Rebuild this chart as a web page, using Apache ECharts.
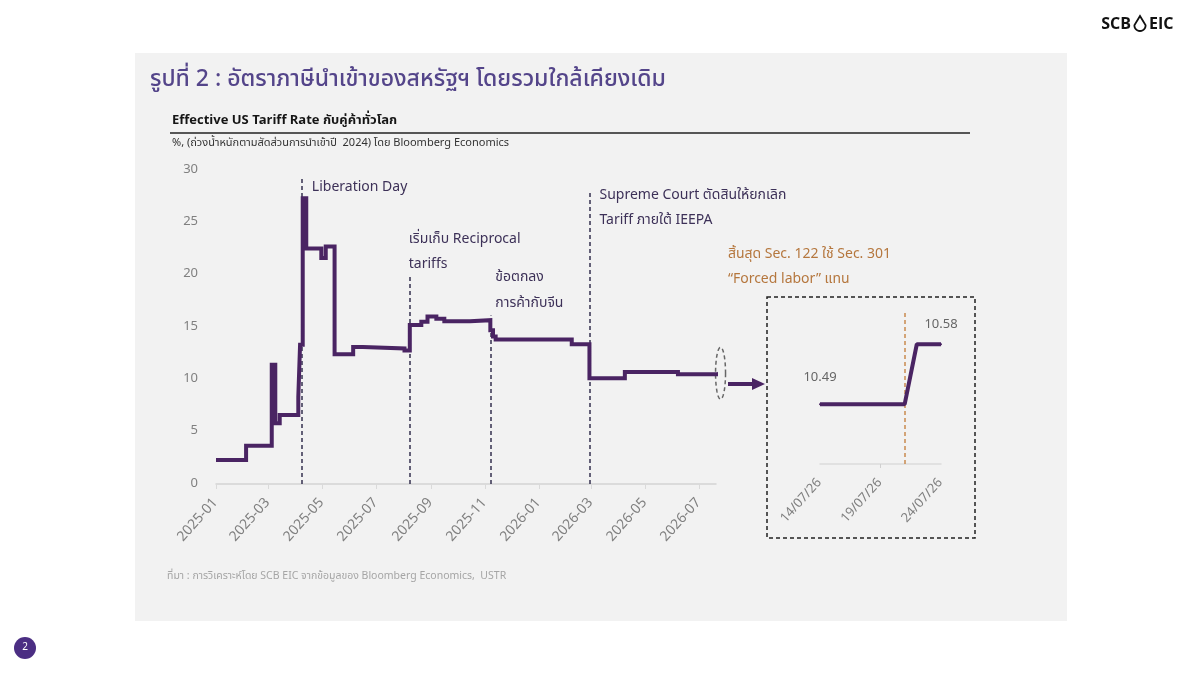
<!DOCTYPE html>
<html>
<head>
<meta charset="utf-8">
<script src="https://cdn.jsdelivr.net/npm/echarts@6/dist/echarts.min.js"></script>
<style>
  html, body { margin: 0; padding: 0; background: #fff; }
  #chart { width: 1200px; height: 675px; }
</style>
</head>
<body>
<div id="chart"></div>
<script>
// วันที่อัตราเปลี่ยน -> effective tariff rate (%)
const rateDates = [
  '2025-01-01', '2025-02-04', '2025-03-05', '2025-03-09', '2025-03-14',
  '2025-04-04', '2025-04-06', '2025-04-09', '2025-04-13', '2025-04-30',
  '2025-05-05', '2025-05-15', '2025-06-05', '2025-06-16', '2025-08-02',
  '2025-08-08', '2025-08-21', '2025-08-28', '2025-09-07', '2025-09-16',
  '2025-10-15', '2025-11-07', '2025-11-10', '2025-11-13', '2026-02-07',
  '2026-02-27', '2026-04-08', '2026-06-07', '2026-07-22', '2026-07-24'
]
const rateValues = [
  2.3, 3.66, 11.4, 5.8, 6.6,
  8.3, 13.3, 27.3, 22.5, 21.6,
  22.7, 12.4, 13.1, 12.95, 12.75,
  15.2, 15.5, 16.0, 15.8, 15.55,
  15.65, 14.7, 14.1, 13.8, 13.35,
  10.1, 10.7, 10.49, 10.58, 10.58
]

const xTickLabels = ['2025-01', '2025-03', '2025-05', '2025-07', '2025-09',
  '2025-11', '2026-01', '2026-03', '2026-05', '2026-07']
const yMin = 0
const yMax = 30
const yStep = 5

// เส้นเหตุการณ์: วันที่, ความสูงของเส้นประ (%), ข้อความ
const eventDates = ['2025-04-08', '2025-08-08', '2025-11-07', '2026-02-27', '2026-07-21']
const eventTops = [29.2, 19.8, 16.1, 27.9, 21.4]
const eventTexts = [
  ['Liberation Day'],
  ['เริ่มเก็บ Reciprocal', 'tariffs'],
  ['ข้อตกลง', 'การค้ากับจีน'],
  ['Supreme Court ตัดสินให้ยกเลิก', 'Tariff ภายใต้ IEEPA'],
  ['สิ้นสุด Sec. 122 ใช้ Sec. 301', '“Forced labor” แทน']
]

// กราฟขยาย (inset)
const insetDates = ['2026-07-14', '2026-07-21', '2026-07-22', '2026-07-24']
const insetValues = [10.49, 10.49, 10.58, 10.58]
const insetTickLabels = ['14/07/26', '19/07/26', '24/07/26']
const insetEventDate = '2026-07-21'

// ---------- helpers ----------
function ts(s) {
  const [y, m, d] = s.split('-').map(Number)
  return Date.UTC(y, m - 1, d)
}
function tsDmy(s) {
  const [d, m, y] = s.split('/').map(Number)
  return Date.UTC(2000 + y, m - 1, d)
}
// จุดรอบวงรี (ใช้วาดเส้นประด้วย polygon)
function ellipsePoints(cx, cy, rx, ry, n = 48) {
  const pts = []
  for (let i = 0; i < n; i++) {
    const a = (i / n) * Math.PI * 2
    pts.push([cx + rx * Math.cos(a), cy + ry * Math.sin(a)])
  }
  return pts
}

const FONT = "'Noto Sans Thai', 'Noto Sans', 'Open Sans', sans-serif"
const PURPLE = '#4a2463'
const EVENT_DARK = '#35304f'
const EVENT_ORANGE = '#c98b4f'
const TEXT_DARK = '#3d3158'
const TEXT_ORANGE = '#b5773e'

const xTickValues = xTickLabels.map(l => ts(l + '-01'))
const insetTickValues = insetTickLabels.map(tsDmy)

// ตำแหน่งข้อความต่อเส้นเหตุการณ์ (px): dx จากเส้น, dy ของบรรทัดแรกจากปลายบนของเส้น
const eventLabelLayout = [
  { dx: 10, dy: 10 },
  { dx: -1, dy: -37 },
  { dx: 5, dy: -37 },
  { dx: 10, dy: 4 },
  { dx: 11, dy: -5 }
]

const chart = echarts.init(document.getElementById('chart'), null, { renderer: 'canvas' })

const eventLines = eventDates.map((d, i) => {
  const last = i === eventDates.length - 1
  return [
    { coord: [ts(d), 0], lineStyle: { color: last ? EVENT_ORANGE : EVENT_DARK } },
    { coord: [ts(d), eventTops[i]] }
  ]
})

chart.setOption({
  animation: false,
  textStyle: { fontFamily: FONT },
  grid: [
    { left: 216, right: 484, top: 170, bottom: 191 },
    { left: 820, right: 259, top: 311, bottom: 211 }
  ],
  xAxis: [
    {
      type: 'value',
      gridIndex: 0,
      min: ts('2025-01-01'),
      max: ts('2026-07-20'),
      axisLine: { lineStyle: { color: '#d4d4d4', width: 1.5 } },
      axisTick: { show: true, customValues: xTickValues, length: 5, lineStyle: { color: '#dadada' } },
      axisLabel: {
        customValues: xTickValues,
        rotate: 48,
        margin: 17,
        color: '#808080',
        fontSize: 14,
        formatter: v => xTickLabels[xTickValues.indexOf(v)] || ''
      },
      splitLine: { show: false }
    },
    {
      type: 'value',
      gridIndex: 1,
      min: ts(insetDates[0]),
      max: ts(insetDates[insetDates.length - 1]),
      axisLine: { lineStyle: { color: '#dcdcdc', width: 1.5 } },
      axisTick: { show: true, customValues: [insetTickValues[1]], length: 4, lineStyle: { color: '#d0d0d0' } },
      axisLabel: {
        customValues: insetTickValues,
        rotate: 48,
        margin: 17,
        color: '#808080',
        fontSize: 13,
        formatter: v => insetTickLabels[insetTickValues.indexOf(v)] || ''
      },
      splitLine: { show: false }
    }
  ],
  yAxis: [
    {
      type: 'value',
      gridIndex: 0,
      min: yMin,
      max: yMax,
      interval: yStep,
      axisLine: { show: false },
      axisTick: { show: false },
      splitLine: { show: false },
      axisLabel: { color: '#808080', fontSize: 13, margin: 18 }
    },
    {
      type: 'value',
      gridIndex: 1,
      min: 10.40,
      max: 10.63,
      show: false
    }
  ],
  series: [
    {
      type: 'line',
      xAxisIndex: 0,
      yAxisIndex: 0,
      step: 'end',
      showSymbol: false,
      clip: false,
      z: 5,
      lineStyle: { color: PURPLE, width: 4, join: 'miter' },
      data: rateDates.map((d, i) => [ts(d), rateValues[i]]),
      markLine: {
        silent: true,
        symbol: 'none',
        label: { show: false },
        lineStyle: { type: [4, 3], width: 1.5 },
        data: eventLines
      }
    },
    {
      type: 'line',
      xAxisIndex: 1,
      yAxisIndex: 1,
      showSymbol: true,
      symbol: 'circle',
      symbolSize: 2,
      itemStyle: { color: PURPLE },
      z: 5,
      lineStyle: { color: PURPLE, width: 4 },
      data: insetDates.map((d, i) => {
        const edge = i === 0 || i === insetDates.length - 1
        return {
          value: [ts(d), insetValues[i]],
          label: {
            show: edge,
            position: 'top',
            distance: i === 0 ? 18 : 11,
            color: '#666',
            fontSize: 13,
            formatter: p => p.value[1].toFixed(2)
          }
        }
      }),
      markLine: {
        silent: true,
        symbol: 'none',
        label: { show: false },
        lineStyle: { type: [4, 3], width: 1.5, color: EVENT_ORANGE },
        data: [{ xAxis: ts(insetEventDate) }]
      }
    }
  ]
})

// ---------- ข้อความและกราฟิกประกอบ ----------
const toPx = (d, v) => chart.convertToPixel({ xAxisIndex: 0, yAxisIndex: 0 }, [ts(d), v])

// รูปหยดน้ำกลับหัวในโลโก้
const logoDrop = [[1140, 16], [1134.5, 25]]
  .concat(ellipsePoints(1140, 25.5, 5.6, 5.5, 24).filter(p => p[1] >= 25.4).sort((a, b) => a[0] - b[0]))
  .concat([[1145.5, 25]])

const graphics = [
  { type: 'rect', z: -100, shape: { x: 135, y: 53, width: 932, height: 568 }, style: { fill: '#f2f2f2' } },
  { type: 'text', x: 150, y: 81, style: { text: 'รูปที่ 2 : อัตราภาษีนำเข้าของสหรัฐฯ โดยรวมใกล้เคียงเดิม', fill: '#54458a', font: `500 23px ${FONT}`, verticalAlign: 'middle' } },
  { type: 'text', x: 172, y: 121, style: { text: 'Effective US Tariff Rate กับคู่ค้าทั่วโลก', fill: '#151515', font: `bold 13px ${FONT}`, verticalAlign: 'middle' } },
  { type: 'line', shape: { x1: 170, y1: 133, x2: 970, y2: 133 }, style: { stroke: '#222', lineWidth: 1.5 } },
  { type: 'text', x: 172, y: 144, style: { text: '%, (ถ่วงน้ำหนักตามสัดส่วนการนำเข้าปี  2024) โดย Bloomberg Economics', fill: '#333', font: `11px ${FONT}`, verticalAlign: 'middle' } },
  { type: 'text', x: 167, y: 577, style: { text: 'ที่มา : การวิเคราะห์โดย SCB EIC จากข้อมูลของ Bloomberg Economics,  USTR', fill: '#a5a5a5', font: `10.5px ${FONT}`, verticalAlign: 'middle' } },
  // โลโก้
  { type: 'text', x: 1131, y: 24, style: { text: 'SCB', fill: '#111', font: `bold 16px 'Open Sans', sans-serif`, align: 'right', verticalAlign: 'middle' } },
  { type: 'polygon', shape: { points: logoDrop }, style: { fill: 'none', stroke: '#111', lineWidth: 1.8 } },
  { type: 'text', x: 1149, y: 24, style: { text: 'EIC', fill: '#111', font: `bold 16px 'Open Sans', sans-serif`, verticalAlign: 'middle' } },
  // เลขหน้า
  { type: 'circle', shape: { cx: 25, cy: 648, r: 11 }, style: { fill: '#4b2e83' } },
  { type: 'text', x: 25, y: 648, style: { text: '2', fill: '#fff', font: `10px ${FONT}`, align: 'center', verticalAlign: 'middle' } }
]

eventDates.forEach((d, i) => {
  const [px, py] = toPx(d, eventTops[i])
  const last = i === eventDates.length - 1
  eventTexts[i].forEach((t, k) => {
    graphics.push({
      type: 'text',
      x: px + eventLabelLayout[i].dx,
      y: py + eventLabelLayout[i].dy + k * 25.5,
      style: { text: t, fill: last ? TEXT_ORANGE : TEXT_DARK, font: `14px ${FONT}`, verticalAlign: 'middle' }
    })
  })
})

// วงรีรอบจุดท้ายของเส้น + ลูกศรชี้ไปกราฟขยาย
const endPt = toPx(rateDates[rateDates.length - 1], rateValues[rateValues.length - 1])
graphics.push(
  { type: 'polygon', shape: { points: ellipsePoints(endPt[0] + 1, endPt[1], 5, 26) }, style: { fill: 'none', stroke: '#666', lineWidth: 1.5, lineDash: [4, 3] } },
  { type: 'line', shape: { x1: 728, y1: 384, x2: 754, y2: 384 }, style: { stroke: PURPLE, lineWidth: 4 } },
  { type: 'polygon', shape: { points: [[752, 378], [765, 384], [752, 390]] }, style: { fill: PURPLE } },
  { type: 'rect', shape: { x: 767, y: 297, width: 208, height: 241 }, style: { fill: 'none', stroke: '#222', lineWidth: 1.5, lineDash: [4, 3] } }
)

chart.setOption({ graphic: graphics })
</script>
</body>
</html>
